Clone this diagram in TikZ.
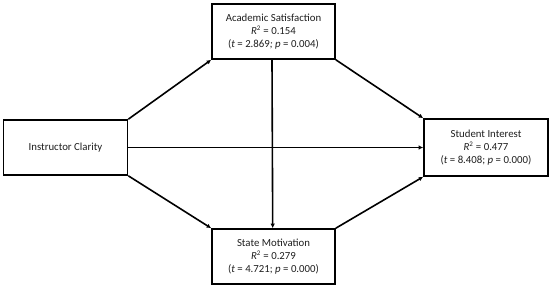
\documentclass[tikz,border=0pt]{standalone}
\usepackage{fontspec}
\setmainfont{Carlito}
\usetikzlibrary{arrows.meta}
\begin{document}
\begin{tikzpicture}[x=1pt,y=-1pt,
  box/.style={draw=black,line width=1.6pt,fill=white,inner sep=0pt,align=center,
    font=\fontsize{10.8}{13}\selectfont,text=black!88},
  conn/.style={line width=1.6pt,-{Latex[length=4.5pt,width=4.5pt]}}]
\useasboundingbox (0,0) rectangle (550,287);
\node[box,minimum width=123pt,minimum height=55pt] (as) at (273.5,31.5)
  {Academic Satisfaction\\\textit{R}\textsuperscript{\scriptsize 2} = 0.154\\(\textit{t} = 2.869\textit{;} \textit{p} = 0.004)};
\node[box,minimum width=123pt,minimum height=55pt] (sm) at (273.5,256.5)
  {State Motivation\\\textit{R}\textsuperscript{\scriptsize 2} = 0.279\\(\textit{t} = 4.721; \textit{p} = 0.000)};
\node[box,minimum width=124pt,minimum height=57pt] (si) at (486,147.5)
  {Student Interest\\\textit{R}\textsuperscript{\scriptsize 2} = 0.477\\(\textit{t} = 8.408; \textit{p} = 0.000)};
\node[box,minimum width=124pt,minimum height=55pt] (ic) at (65.5,147.5)
  {Instructor Clarity};
\draw[conn] (ic.north east) -- (as.south west);
\draw[conn] (ic.south east) -- (sm.north west);
\draw[conn] (ic.east) -- (si.west);
\draw[conn] ([xshift=-1.5pt]as.south) -- ([xshift=-0.8pt]sm.north);
\draw[conn] (as.south east) -- (si.north west);
\draw[conn] (sm.north east) -- (si.south west);
\end{tikzpicture}
\end{document}
